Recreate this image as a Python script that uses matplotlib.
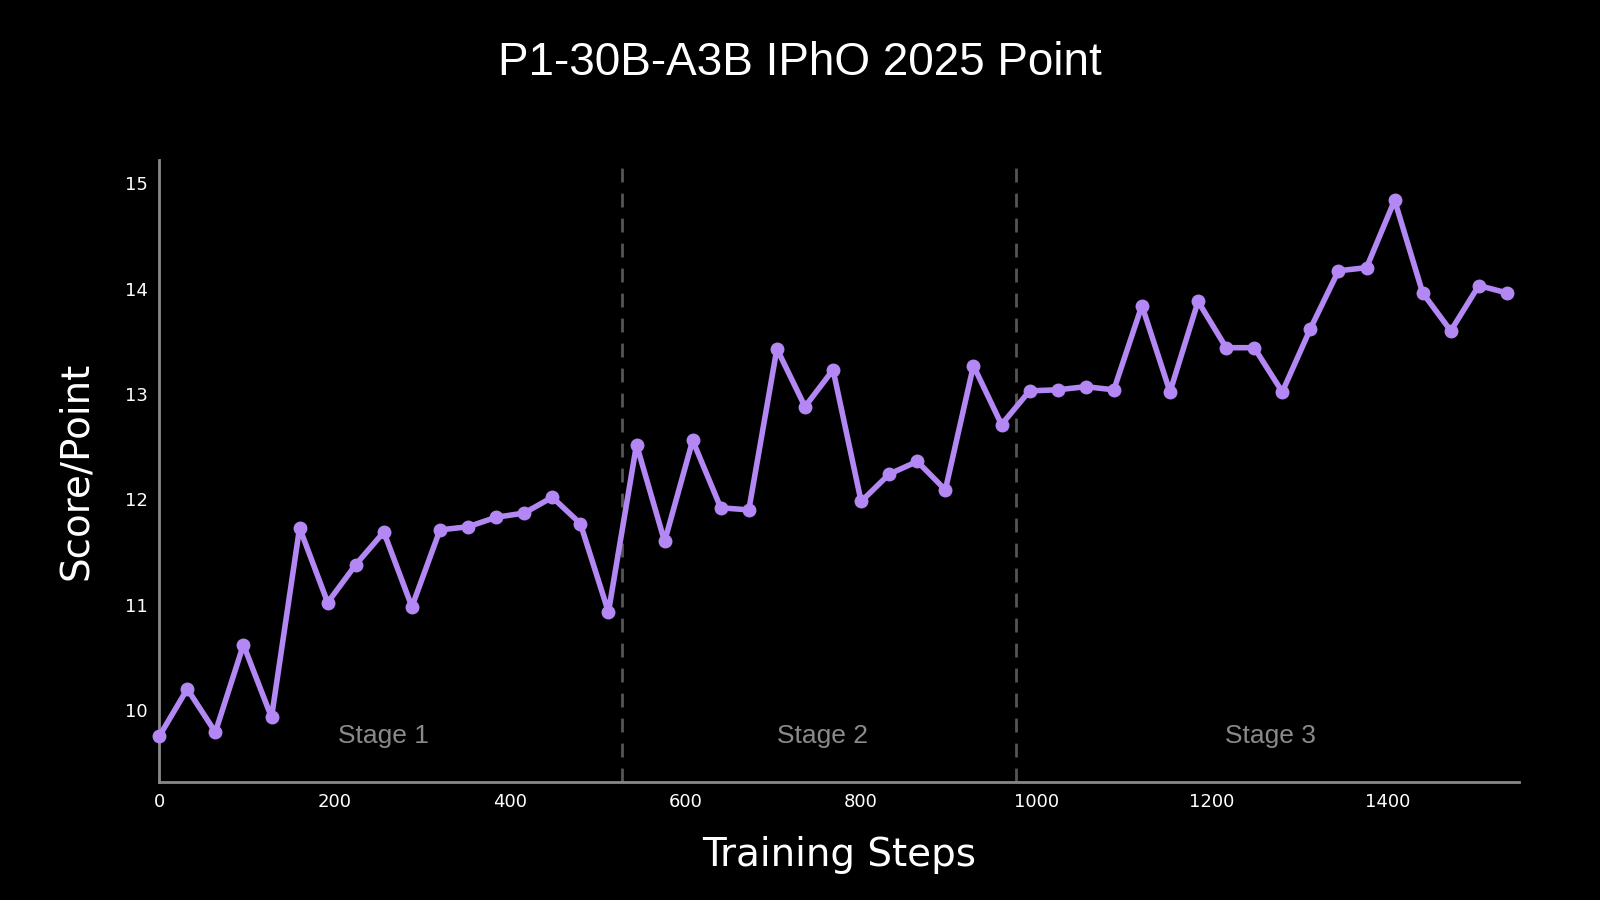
import matplotlib
matplotlib.use("Agg")
import matplotlib.pyplot as plt

steps = list(range(0, 1537, 32))
scores = [9.75,10.2,9.79,10.62,9.93,11.73,11.02,11.38,11.69,10.98,11.71,11.74,11.83,11.87,12.02,11.77,10.93,
          12.52,11.60,12.56,11.92,11.90,13.43,12.88,13.23,11.98,12.24,12.36,12.09,13.27,12.71,
          13.03,13.04,13.07,13.04,13.84,13.02,13.88,13.44,13.44,13.02,13.62,14.17,14.20,14.84,13.96,13.60,14.03,13.96]
stage_bounds = [528, 976]
stage_labels = ["Stage 1", "Stage 2", "Stage 3"]
stage_label_x = [256, 756, 1266]

fig = plt.figure(figsize=(16, 9), dpi=100, facecolor="black")
ax = fig.add_axes([0.0995, 0.1315, 0.85, 0.6905], facecolor="black")
ax.plot(steps, scores, color="#b388f5", lw=4, marker="o", ms=9, zorder=3, clip_on=False)
for b in stage_bounds:
    ax.axvline(b, color="#555555", ls=(0, (5, 4)), lw=2, zorder=1)
for x, t in zip(stage_label_x, stage_labels):
    ax.text(x, 9.75, t, color="#8a8a8a", fontsize=19, ha="center", va="center", family="Liberation Sans")
ax.set_xlim(0, 1550)
ax.set_ylim(9.32, 15.22)
ax.set_xticks(range(0, 1401, 200))
ax.set_yticks(range(10, 16))
for s in ["top", "right"]:
    ax.spines[s].set_visible(False)
for s in ["left", "bottom"]:
    ax.spines[s].set_color("#888888")
    ax.spines[s].set_linewidth(2)
ax.tick_params(colors="white", labelsize=13, length=0, pad=8)
ax.set_xlabel("Training Steps", color="white", fontsize=28, labelpad=18)
ax.set_ylabel("Score/Point", color="white", fontsize=28, labelpad=22)
fig.text(0.5, 0.93, "P1-30B-A3B IPhO 2025 Point", color="white", fontsize=33,
         ha="center", va="center", family="Liberation Sans")
fig.savefig("out.png", facecolor="black")
